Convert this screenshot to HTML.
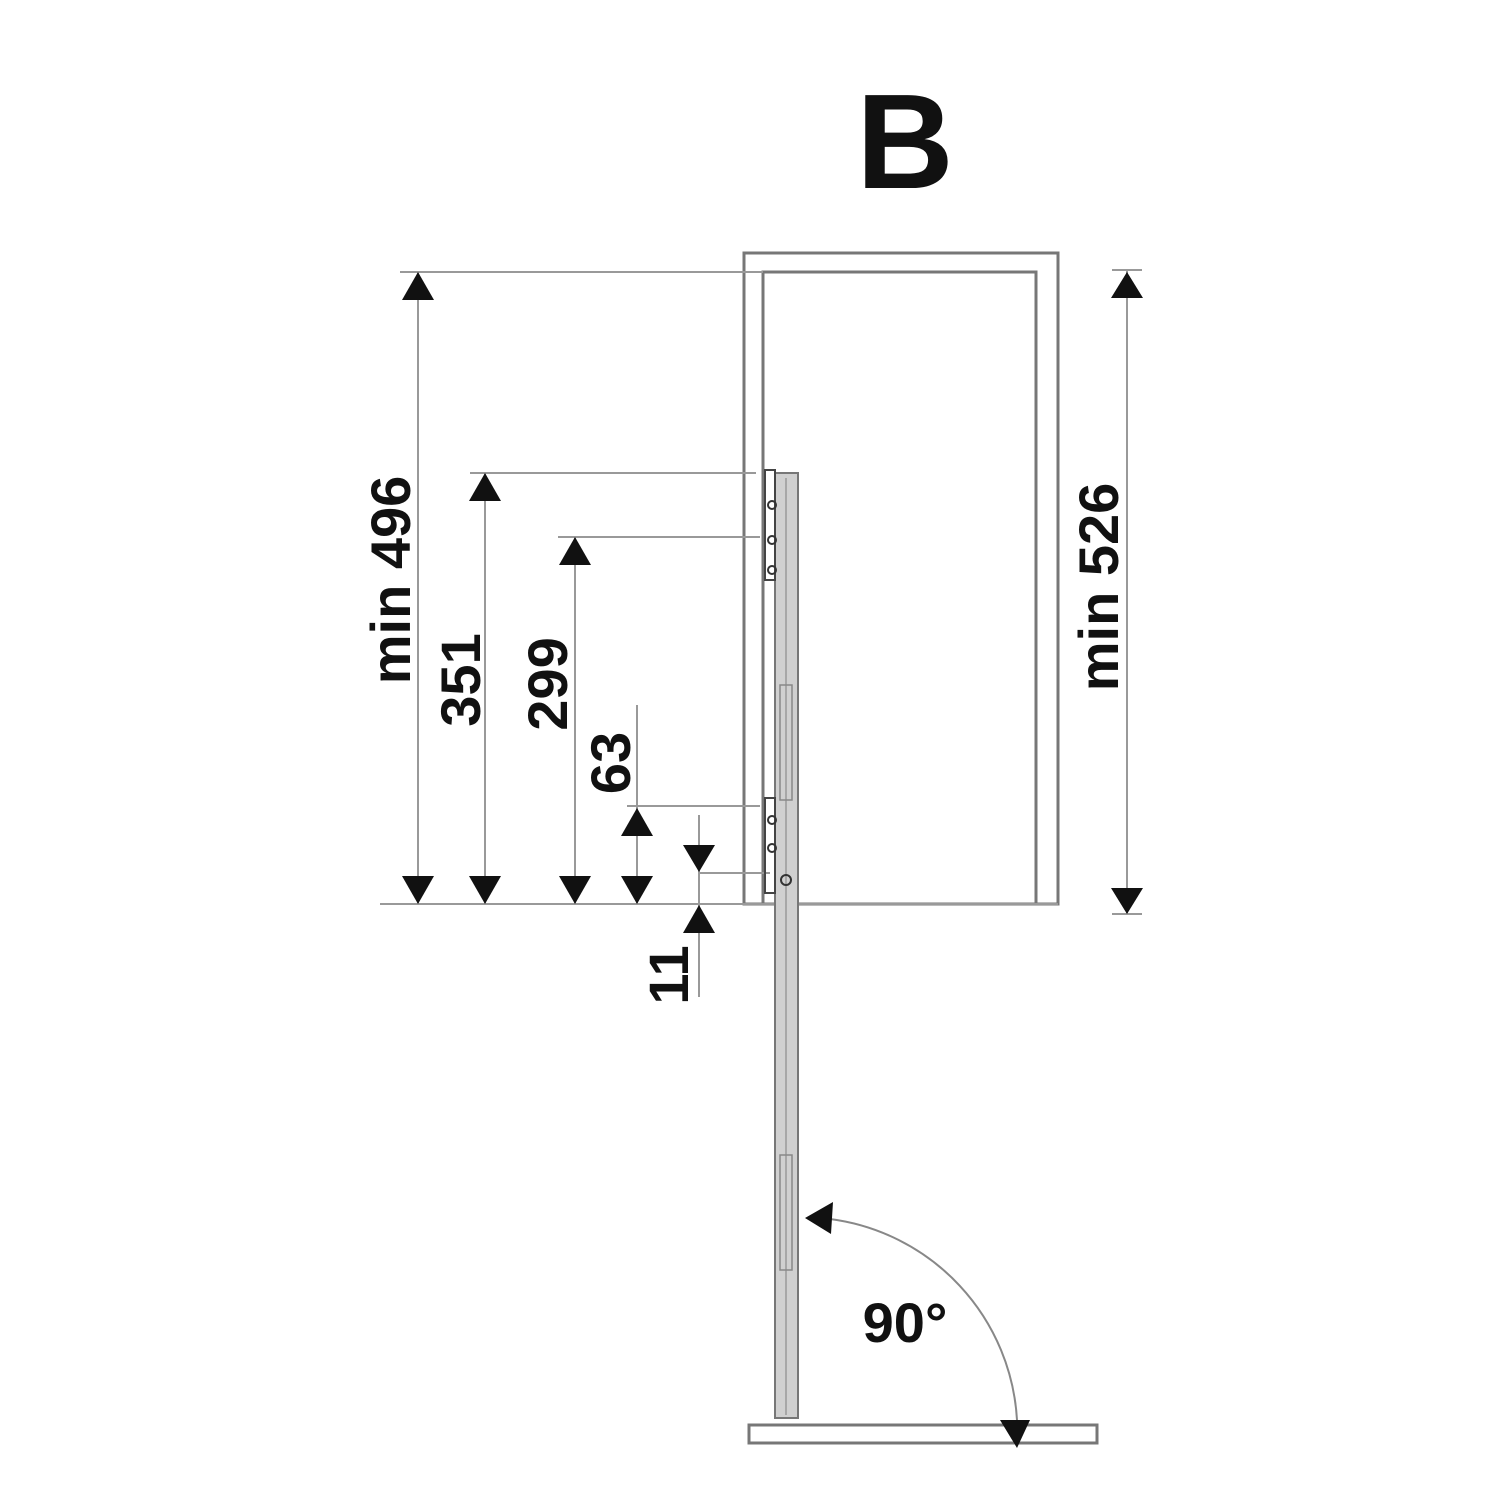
<!DOCTYPE html>
<html><head><meta charset="utf-8"><style>
html,body{margin:0;padding:0;background:#fff;width:1500px;height:1500px;overflow:hidden}
svg{display:block}
text{font-family:"Liberation Sans",sans-serif;font-weight:bold;fill:#111}
</style></head><body>
<svg width="1500" height="1500" viewBox="0 0 1500 1500">
<text x="905" y="188" font-size="135" text-anchor="middle">B</text>
<!-- cabinet -->
<g fill="none" stroke="#777" stroke-width="3">
<path d="M744 904 V253 H1058 V904 Z"/>
<path d="M763 904 V272 H1036 V904"/>
</g>
<!-- extension lines -->
<g stroke="#999" stroke-width="2">
<line x1="380" y1="904" x2="775" y2="904"/>
<line x1="798" y1="904" x2="1058" y2="904"/>
<line x1="400" y1="272" x2="763" y2="272"/>
<line x1="470" y1="473" x2="756" y2="473"/>
<line x1="558" y1="537" x2="760" y2="537"/>
<line x1="627" y1="806" x2="760" y2="806"/>
<line x1="700" y1="873" x2="770" y2="873"/>
<line x1="1112" y1="270" x2="1142" y2="270"/>
<line x1="1112" y1="914" x2="1142" y2="914"/>
<!-- dims -->
<line x1="418" y1="272" x2="418" y2="904"/>
<line x1="485" y1="473" x2="485" y2="904"/>
<line x1="575" y1="537" x2="575" y2="904"/>
<line x1="637" y1="705" x2="637" y2="904"/>
<line x1="699" y1="815" x2="699" y2="997"/>
<line x1="1127" y1="270" x2="1127" y2="914"/>
</g>
<g fill="#111">
<path d="M418 272 L402 300 L434 300Z"/><path d="M418 904 L402 876 L434 876Z"/>
<path d="M485 473 L469 501 L501 501Z"/><path d="M485 904 L469 876 L501 876Z"/>
<path d="M575 537 L559 565 L591 565Z"/><path d="M575 904 L559 876 L591 876Z"/>
<path d="M637 808 L621 836 L653 836Z"/><path d="M637 904 L621 876 L653 876Z"/>
<path d="M699 872 L683 845 L715 845Z"/><path d="M699 905 L683 933 L715 933Z"/>
<path d="M1127 272 L1111 298 L1143 298Z"/><path d="M1127 914 L1111 888 L1143 888Z"/>
</g>
<!-- labels -->
<g font-size="56">
<text transform="translate(410,580) rotate(-90)" text-anchor="middle">min 496</text>
<text transform="translate(480,680) rotate(-90)" text-anchor="middle">351</text>
<text transform="translate(567,684) rotate(-90)" text-anchor="middle">299</text>
<text transform="translate(630,763) rotate(-90)" text-anchor="middle">63</text>
<text transform="translate(688,975) rotate(-90)" text-anchor="middle">11</text>
<text transform="translate(1118,587) rotate(-90)" text-anchor="middle">min 526</text>
</g>
<!-- door strip -->
<rect x="775" y="473" width="23" height="945" fill="#d0d0d0" stroke="#777" stroke-width="2"/>
<line x1="786" y1="478" x2="786" y2="1415" stroke="#999" stroke-width="1.5"/>
<rect x="780" y="685" width="12" height="115" fill="none" stroke="#888" stroke-width="1.5"/>
<rect x="780" y="1155" width="12" height="115" fill="none" stroke="#888" stroke-width="1.5"/>
<rect x="765" y="470" width="10" height="110" fill="none" stroke="#444" stroke-width="2"/>
<rect x="765" y="798" width="10" height="95" fill="none" stroke="#444" stroke-width="2"/>
<g fill="none" stroke="#333" stroke-width="2">
<circle cx="772" cy="505" r="4"/><circle cx="772" cy="540" r="4"/><circle cx="772" cy="570" r="4"/>
<circle cx="772" cy="820" r="4"/><circle cx="772" cy="848" r="4"/><circle cx="786" cy="880" r="5"/>
</g>
<!-- base -->
<rect x="749" y="1425" width="348" height="18" fill="#fff" stroke="#777" stroke-width="3"/>
<!-- arc -->
<path d="M830 1219 A215 215 0 0 1 1017 1420" fill="none" stroke="#888" stroke-width="2"/>
<path d="M805 1218 L833 1202 L831 1234Z" fill="#111"/>
<path d="M1017 1448 L1000 1420 L1030 1420Z" fill="#111"/>
<text x="905" y="1342" font-size="56" text-anchor="middle">90°</text>
</svg>
</body></html>
